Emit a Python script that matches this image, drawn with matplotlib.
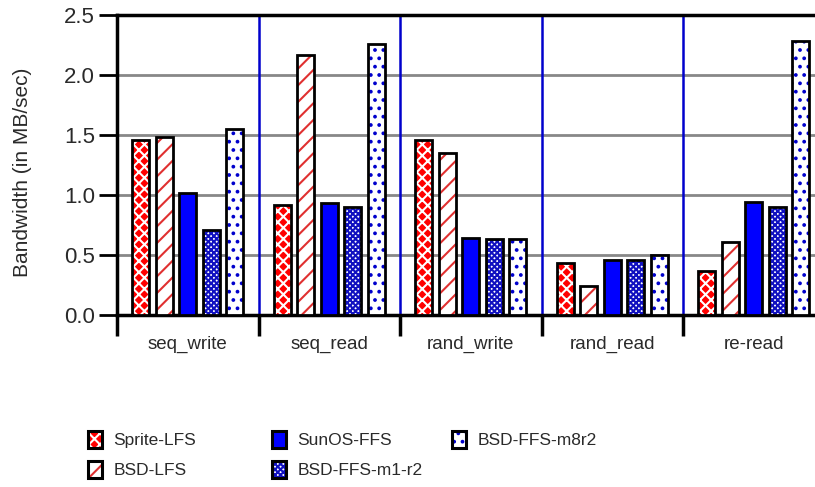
import matplotlib
matplotlib.use("Agg")
import matplotlib.pyplot as plt
import numpy as np
from matplotlib.patches import Patch

plt.rcParams['font.family'] = ['Liberation Sans', 'DejaVu Sans']
plt.rcParams['hatch.linewidth'] = 1.5

categories = ["seq_write", "seq_read", "rand_write", "rand_read", "re-read"]
series_names = ["Sprite-LFS", "BSD-LFS", "SunOS-FFS", "BSD-FFS-m1-r2", "BSD-FFS-m8r2"]
sprite_lfs = [1.46, 0.92, 1.46, 0.43, 0.37]
bsd_lfs = [1.48, 2.17, 1.35, 0.24, 0.61]
sunos_ffs = [1.02, 0.93, 0.64, 0.46, 0.94]
bsd_ffs_m1r2 = [0.71, 0.90, 0.63, 0.46, 0.90]
bsd_ffs_m8r2 = [1.55, 2.26, 0.63, 0.50, 2.28]
yticks = [0.0, 0.5, 1.0, 1.5, 2.0, 2.5]
ylabel = "Bandwidth (in MB/sec)"

series = [sprite_lfs, bsd_lfs, sunos_ffs, bsd_ffs_m1r2, bsd_ffs_m8r2]
# (facecolor, hatch colour, hatch)
styles = [
    ("#ff0000", "white", "xxx"),
    ("white", "#e03030", "//"),
    ("#0000ff", "#0000ff", None),
    ("white", "#1010c0", "xxxxxx"),
    ("white", "#0000cc", ".."),
]

fig = plt.figure(figsize=(8.15, 4.87), dpi=100)
W, H = 815, 487
left, right, top, bottom = 117, 824.5, 15, 315
ax = fig.add_axes([left / W, 1 - bottom / H, (right - left) / W, (bottom - top) / H])

x = np.arange(len(categories))
step = 0.166
width = 0.12
handles = []
for i, (vals, (fc, hc, hatch)) in enumerate(zip(series, styles)):
    pos = x + (i - 2) * step
    ax.bar(pos, vals, width, color=fc, edgecolor=hc, linewidth=0, hatch=hatch, zorder=3)
    ax.bar(pos, vals, width, fill=False, edgecolor="black", linewidth=2.0, zorder=4)
    h1 = Patch(facecolor=fc, edgecolor=hc, hatch=hatch, linewidth=0)
    h2 = Patch(fill=False, edgecolor="black", linewidth=2.2)
    handles.append((h1, h2))

ax.set_xlim(-0.5, 4.5)
ax.set_ylim(0, 2.5)
ax.set_yticks(yticks)
ax.set_yticklabels([f"{v:.1f}" for v in yticks])
ax.tick_params(axis='y', length=13, width=2, labelsize=16, pad=3, colors='black', labelcolor='#2a2a2a')
for v in yticks[1:-1]:
    ax.axhline(v, color="#888888", linewidth=2, zorder=1)

for b in np.arange(0.5, 4.5, 1.0):
    ax.axvline(b, color="#0000cc", linewidth=1.8, zorder=2)

ax.set_xticks(np.arange(-0.5, 5.0, 1.0))
ax.set_xticklabels([])
ax.tick_params(axis='x', which='major', length=15, width=2.5, direction='out')
ax.set_xticks(x, minor=True)
ax.set_xticklabels(categories, minor=True)
ax.tick_params(axis='x', which='minor', length=0, labelsize=13.5, pad=15, labelcolor='#2a2a2a')

for s in ['top', 'bottom', 'left']:
    ax.spines[s].set_linewidth(2.5)
    ax.spines[s].set_color('black')
ax.spines['right'].set_visible(False)

fig.text(0.028, 1 - 172 / H, ylabel, rotation=90, va='center', ha='center', fontsize=15, color='#2a2a2a')

cols = [[0, 1], [2, 3], [4]]
col_x = [88, 272, 452]
for cx, idxs in zip(col_x, cols):
    fig.legend([handles[k] for k in idxs], [series_names[k] for k in idxs],
               loc='upper left', bbox_to_anchor=(cx / W, 1 - 431 / H),
               frameon=False, fontsize=12.5, handlelength=0.8, handleheight=1.15,
               handletextpad=0.65, labelspacing=0.7, borderpad=0, borderaxespad=0,
               labelcolor='#2a2a2a')

fig.savefig("out.png", dpi=100)
